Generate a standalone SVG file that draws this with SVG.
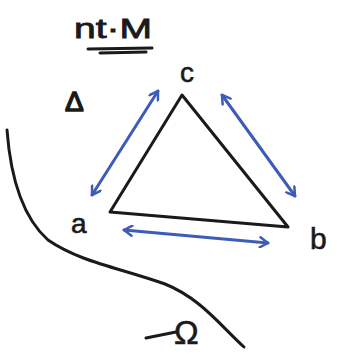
<svg xmlns="http://www.w3.org/2000/svg" width="337" height="355" viewBox="0 0 337 355">
<defs>
<style>
.ink{fill:none;stroke:#1a1a1a;stroke-width:3;stroke-linecap:round;stroke-linejoin:round}
.blue{fill:none;stroke:#3d5cb8;stroke-width:3;stroke-linecap:round;stroke-linejoin:round}
.lbl{font-family:"Liberation Sans",Arial,sans-serif;fill:#1a1a1a}
</style>
<marker id="ah" viewBox="0 0 12 12" refX="10" refY="6" markerWidth="12" markerHeight="12" markerUnits="userSpaceOnUse" orient="auto-start-reverse">
<path d="M2,1 L10,6 L2,11" fill="none" stroke="#3d5cb8" stroke-width="2.5" stroke-linecap="round" stroke-linejoin="round"/>
</marker>
</defs>
<rect width="337" height="355" fill="#fff"/>
<g id="title">
<text class="lbl" x="74" y="38" font-size="27" textLength="78" lengthAdjust="spacingAndGlyphs" stroke="#1a1a1a" stroke-width="0.8">nt·M</text>
<path class="ink" d="M88,49 L152,48 M100,53 L146,52"/>
</g>
<g id="delta">
<text class="lbl" x="65" y="111" font-size="28" stroke="#1a1a1a" stroke-width="1.5">Δ</text>
</g>
<g id="triangle">
<path class="ink" d="M182,95 L110,212 L288,227 Z"/>
</g>
<g id="node-c"><text class="lbl" x="180" y="82" font-size="28" stroke="#1a1a1a" stroke-width="0.6">c</text></g>
<g id="node-a"><text class="lbl" x="71" y="233" font-size="28" stroke="#1a1a1a" stroke-width="0.6">a</text></g>
<g id="node-b"><text class="lbl" x="310" y="249" font-size="30" stroke="#1a1a1a" stroke-width="0.6">b</text></g>
<g id="connectors">
<path class="blue" d="M158,91 L92,195" marker-start="url(#ah)" marker-end="url(#ah)"/>
<path class="blue" d="M222,95 L295,196" marker-start="url(#ah)" marker-end="url(#ah)"/>
<path class="blue" d="M124,230 L268,243" marker-start="url(#ah)" marker-end="url(#ah)"/>
</g>
<g id="boundary">
<path class="ink" d="M7,130 C10,170 20,215 48,240 C80,262 120,268 165,284 C200,298 220,325 244,347"/>
</g>
<g id="omega">
<path class="ink" d="M146,338 L176,332"/>
<text class="lbl" x="174" y="344" font-size="33" stroke="#1a1a1a" stroke-width="0.6">Ω</text>
</g>
</svg>
